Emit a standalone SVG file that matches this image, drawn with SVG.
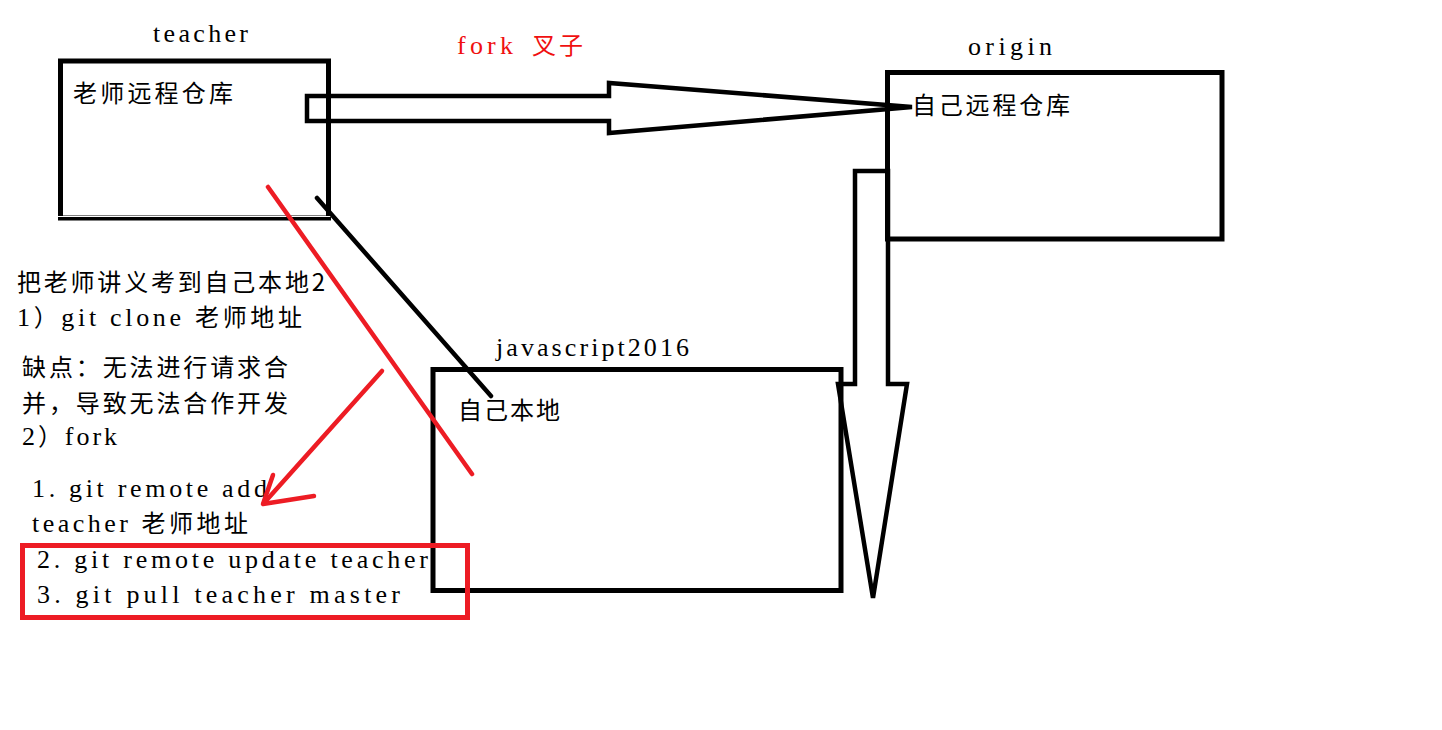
<svg xmlns="http://www.w3.org/2000/svg" width="1442" height="730" viewBox="0 0 1442 730">
<style>
.box{fill:none;stroke:#000;stroke-width:5}
.lat{font-family:"Liberation Serif","Noto Sans CJK SC",serif;font-size:26px;fill:#000}
.cjk{font-family:"Noto Sans CJK SC","Liberation Sans",sans-serif;font-size:24px;fill:#000}
.mix{font-family:"Liberation Serif","Noto Sans CJK SC",serif;font-size:26px;fill:#000}
.z{font-family:"Noto Sans CJK SC","Liberation Sans",sans-serif;font-size:24px}
.blk{fill:none;stroke:#000;stroke-width:4.5;stroke-linejoin:miter}
.red{fill:none;stroke:#ed1c24;stroke-width:4.5;stroke-linecap:round;stroke-linejoin:round}
</style>
<rect width="1442" height="730" fill="#fff"/>
<g id="teacher">
<rect class="box" x="60.5" y="61" width="268" height="157"/>
<line x1="58" y1="216.5" x2="336" y2="216.5" stroke="#fff" stroke-width="1.2"/>
<text class="lat" x="153" y="42" textLength="95" lengthAdjust="spacing">teacher</text>
<text class="cjk" x="73" y="102" textLength="160" lengthAdjust="spacing">老师远程仓库</text>
</g>
<g id="origin">
<rect class="box" x="887.5" y="72.5" width="334.5" height="166.5"/>
<text class="lat" x="968" y="55" textLength="84" lengthAdjust="spacing">origin</text>
<text class="cjk" x="912" y="114" textLength="158" lengthAdjust="spacing">自己远程仓库</text>
</g>
<g id="local">
<rect class="box" x="433" y="369.5" width="408" height="221"/>
<text class="lat" x="496" y="356" textLength="193" lengthAdjust="spacing">javascript2016</text>
<text class="cjk" x="458" y="419" textLength="102" lengthAdjust="spacing">自己本地</text>
</g>
<g id="fork-label">
<text class="mix" x="457" y="54" style="fill:#f01010" textLength="56" lengthAdjust="spacing">fork</text>
<text class="cjk" x="532" y="54" style="fill:#f01010" textLength="51" lengthAdjust="spacing">叉子</text>
</g>
<g id="notes">
<text class="cjk" x="17" y="291" textLength="308" lengthAdjust="spacing">把老师讲义考到自己本地2</text>
<text class="mix" x="17" y="326" textLength="285" lengthAdjust="spacing">1<tspan class="z">）</tspan>git clone <tspan class="z">老师地址</tspan></text>
<text class="cjk" x="22" y="376" textLength="266" lengthAdjust="spacing">缺点：无法进行请求合</text>
<text class="cjk" x="22" y="412" textLength="266" lengthAdjust="spacing">并，导致无法合作开发</text>
<text class="mix" x="22" y="445" textLength="95" lengthAdjust="spacing">2<tspan class="z">）</tspan>fork</text>
<text class="mix" x="32" y="497" textLength="235" lengthAdjust="spacing">1. git remote add</text>
<text class="mix" x="32" y="532" textLength="216" lengthAdjust="spacing">teacher <tspan class="z">老师地址</tspan></text>
<text class="mix" x="37" y="568" textLength="391" lengthAdjust="spacing">2. git remote update teacher</text>
<text class="mix" x="37" y="603" textLength="363" lengthAdjust="spacing">3. git pull teacher master</text>
</g>
<g id="highlight">
<rect x="22.5" y="545.5" width="445" height="72" fill="none" stroke="#ed1c24" stroke-width="5"/>
</g>
<g id="connectors">
<polygon class="blk" points="307,96 609,96 609,83 912,107 609,133 609,121 307,121"/>
<polygon class="blk" points="855,171 888,171 888,384 907,384 873,598 838,384 855,384"/>
<line x1="317" y1="198" x2="491" y2="396" stroke="#000" stroke-width="4.5" stroke-linecap="round"/>
<line x1="268" y1="187" x2="472" y2="474" class="red"/>
<polyline class="red" points="382,371 264,503"/>
<polyline class="red" points="273,475 263,504 314,496"/>
</g>
</svg>
